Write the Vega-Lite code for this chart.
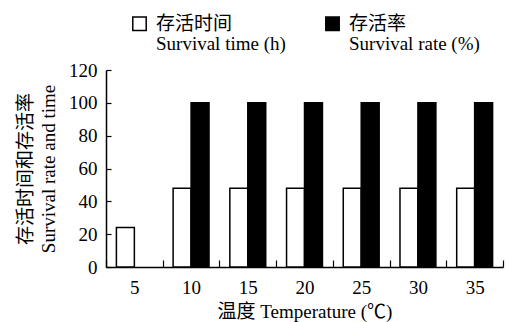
{
  "$schema": "https://vega.github.io/schema/vega-lite/v6.json",
  "width": 397,
  "height": 197,
  "autosize": {"type": "none"},
  "padding": {"left": 106, "top": 70, "right": 9, "bottom": 55},
  "background": "white",
  "config": {
    "font": "Liberation Serif, Noto Sans CJK SC",
    "view": {"stroke": null},
    "axis": {
      "domainColor": "black",
      "domainWidth": 1.5,
      "tickColor": "black",
      "tickWidth": 1.2,
      "labelColor": "black",
      "titleColor": "black",
      "labelFont": "Liberation Serif",
      "labelFontSize": 19,
      "titleFont": "Liberation Serif, Noto Sans CJK SC",
      "titleFontSize": 19,
      "titleFontWeight": "normal",
      "grid": false
    }
  },
  "data": {
    "values": [
      {"T": "5", "series": "time", "value": 24},
      {"T": "5", "series": "rate", "value": 0},
      {"T": "10", "series": "time", "value": 48},
      {"T": "10", "series": "rate", "value": 100},
      {"T": "15", "series": "time", "value": 48},
      {"T": "15", "series": "rate", "value": 100},
      {"T": "20", "series": "time", "value": 48},
      {"T": "20", "series": "rate", "value": 100},
      {"T": "25", "series": "time", "value": 48},
      {"T": "25", "series": "rate", "value": 100},
      {"T": "30", "series": "time", "value": 48},
      {"T": "30", "series": "rate", "value": 100},
      {"T": "35", "series": "time", "value": 48},
      {"T": "35", "series": "rate", "value": 100}
    ]
  },
  "mark": {"type": "bar", "stroke": "black", "strokeWidth": 1.5},
  "encoding": {
    "x": {
      "field": "T",
      "type": "ordinal",
      "sort": ["5", "10", "15", "20", "25", "30", "35"],
      "scale": {"paddingInner": 0, "paddingOuter": 0},
      "axis": {
        "title": "温度 Temperature (℃)",
        "labelAngle": 0,
        "tickBand": "extent",
        "tickSize": -7,
        "labelPadding": 18,
        "titlePadding": 5
      }
    },
    "xOffset": {
      "field": "series",
      "sort": ["time", "rate"],
      "scale": {"paddingInner": 0, "paddingOuter": 0.58}
    },
    "y": {
      "field": "value",
      "type": "quantitative",
      "scale": {"domain": [0, 120], "nice": false},
      "axis": {
        "values": [0, 20, 40, 60, 80, 100, 120],
        "title": ["存活时间和存活率", "Survival rate and time"],
        "titleLineHeight": 23,
        "tickSize": -5,
        "labelPadding": 14,
        "titlePadding": 10
      }
    },
    "strokeOpacity": {
      "condition": {"test": "datum.value == 0", "value": 0},
      "value": 1
    },
    "fill": {
      "field": "series",
      "type": "nominal",
      "sort": ["time", "rate"],
      "scale": {"domain": ["time", "rate"], "range": ["white", "black"]},
      "legend": {
        "title": null,
        "orient": "none",
        "legendX": 24,
        "legendY": -56,
        "direction": "horizontal",
        "symbolType": "square",
        "symbolSize": 180,
        "symbolStrokeColor": "black",
        "symbolStrokeWidth": 1.5,
        "labelFont": "Liberation Serif, Noto Sans CJK SC",
        "labelFontSize": 19,
        "labelColor": "black",
        "labelExpr": "datum.value == 'time' ? ['存活时间', 'Survival time (h)'] : ['存活率', 'Survival rate (%)']",
        "columnPadding": 36,
        "labelOffset": 7,
        "encode": {"labels": {"update": {"lineHeight": {"value": 20}}}}
      }
    }
  }
}
